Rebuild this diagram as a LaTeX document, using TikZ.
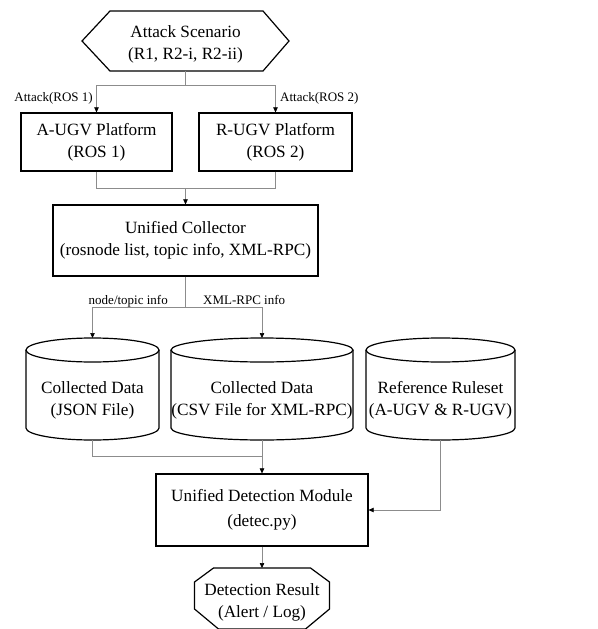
\documentclass[tikz,border=0pt]{standalone}
\usepackage{fontspec}
\setmainfont{Liberation Serif}
\usetikzlibrary{arrows.meta}
\newcommand\mybig{\fontsize{17.2}{22}\selectfont}
\newcommand\mysmall{\fontsize{13}{15}\selectfont}
\begin{document}
\begin{tikzpicture}[x=1pt,y=-1pt,
  shapeline/.style={draw=black,line width=1.2pt},
  box/.style={shapeline,align=center,font=\mybig,inner sep=0pt},
  frame/.style={inner sep=0pt,outer sep=0pt},
  txt/.style={align=center,font=\mybig,inner sep=0pt},
  lbl/.style={font=\mysmall,inner sep=0pt},
  conn/.style={draw=black!45,line width=0.6pt},
  arr/.style={conn,-{Triangle[length=5pt,width=4.5pt,color=black]}}
]
\useasboundingbox (0,0) rectangle (597,629);

% Attack scenario hexagon
\node[frame,minimum width=207pt,minimum height=60pt] (scen) at (185.5,41) {};
\draw[shapeline] (scen.west) -- ([xshift=28pt]scen.north west) -- ([xshift=-26pt]scen.north east) -- (scen.east) -- ([xshift=-26pt]scen.south east) -- ([xshift=28pt]scen.south west) -- cycle;
\node[txt] (scent) at (185.5,44) {Attack Scenario\\(R1, R2-i, R2-ii)};

% platforms
\node[box,minimum width=151pt,minimum height=58pt] (augv) at (96.5,142) {A-UGV Platform\\(ROS 1)};
\node[box,minimum width=153pt,minimum height=58pt] (rugv) at (275.5,142) {R-UGV Platform\\(ROS 2)};

% collector
\node[box,minimum width=265pt,minimum height=71pt] (coll) at (185.5,240.5) {Unified Collector\\(rosnode list, topic info, XML-RPC)};

% cylinders
\node[frame,minimum width=133pt,minimum height=102pt] (c1) at (92.5,389) {};
\node[frame,minimum width=182pt,minimum height=102pt] (c2) at (262,389) {};
\node[frame,minimum width=149pt,minimum height=102pt] (c3) at (440.5,389) {};
\draw[shapeline] ([yshift=-12pt]c1.north west) -- ([yshift=12pt]c1.south west) arc[start angle=180,end angle=360,x radius=66.5pt,y radius=12pt] -- ([yshift=-12pt]c1.north east);
\draw[shapeline] ([yshift=-12pt]c1.north) ellipse[x radius=66.5pt,y radius=12pt];
\draw[shapeline] ([yshift=-12pt]c2.north west) -- ([yshift=12pt]c2.south west) arc[start angle=180,end angle=360,x radius=91pt,y radius=12pt] -- ([yshift=-12pt]c2.north east);
\draw[shapeline] ([yshift=-12pt]c2.north) ellipse[x radius=91pt,y radius=12pt];
\draw[shapeline] ([yshift=-12pt]c3.north west) -- ([yshift=12pt]c3.south west) arc[start angle=180,end angle=360,x radius=74.5pt,y radius=12pt] -- ([yshift=-12pt]c3.north east);
\draw[shapeline] ([yshift=-12pt]c3.north) ellipse[x radius=74.5pt,y radius=12pt];
\node[txt] (c1t) at (92.5,400) {Collected Data\\(JSON File)};
\node[txt] (c2t) at (262,400) {Collected Data\\(CSV File for XML-RPC)};
\node[txt] (c3t) at (440.5,400) {Reference Ruleset\\(A-UGV \& R-UGV)};

% detection module
\node[box,minimum width=212pt,minimum height=72pt] (det) at (262,510) {Unified Detection Module\\[3pt](detec.py)};

% result octagon
\node[frame,minimum width=135pt,minimum height=61pt] (res) at (262,598.5) {};
\draw[shapeline] ([xshift=19pt]res.north west) -- ([xshift=-19pt]res.north east) -- ([yshift=-14pt]res.north east) -- ([yshift=20pt]res.south east) -- ([xshift=-24pt]res.south east) -- ([xshift=24pt]res.south west) -- ([yshift=20pt]res.south west) -- ([yshift=-14pt]res.north west) -- cycle;
\node[txt] (rest) at (262,602) {Detection Result\\(Alert / Log)};

% connectors
\coordinate (j1) at (185.5,85);
\draw[conn] (scen.south) -- (j1);
\draw[arr] (j1) -| (augv.north);
\draw[arr] (j1) -| (rugv.north);
\node[lbl,anchor=base east] (la1) at (93,101) {Attack(ROS 1)};
\node[lbl,anchor=base west] (la2) at (280,101) {Attack(ROS 2)};

\coordinate (j2) at (185.5,188);
\draw[conn] (augv.south) |- (j2);
\draw[conn] (rugv.south) |- (j2);
\draw[arr] (j2) -- (coll.north);

\coordinate (j3) at (185.5,307);
\draw[conn] (coll.south) -- (j3);
\draw[arr] (j3) -| (c1.north);
\draw[arr] (j3) -| (c2.north);
\node[lbl,anchor=base east] (ln) at (168,304) {node/topic info};
\node[lbl,anchor=base west] (lx) at (203,304) {XML-RPC info};

\coordinate (j4) at (262,456);
\draw[conn] (c1.south) |- (j4);
\draw[arr] (c2.south) -- (det.north);
\draw[arr] (c3.south) |- (det.east);
\draw[arr] (det.south) -- (res.north);
\end{tikzpicture}
\end{document}
